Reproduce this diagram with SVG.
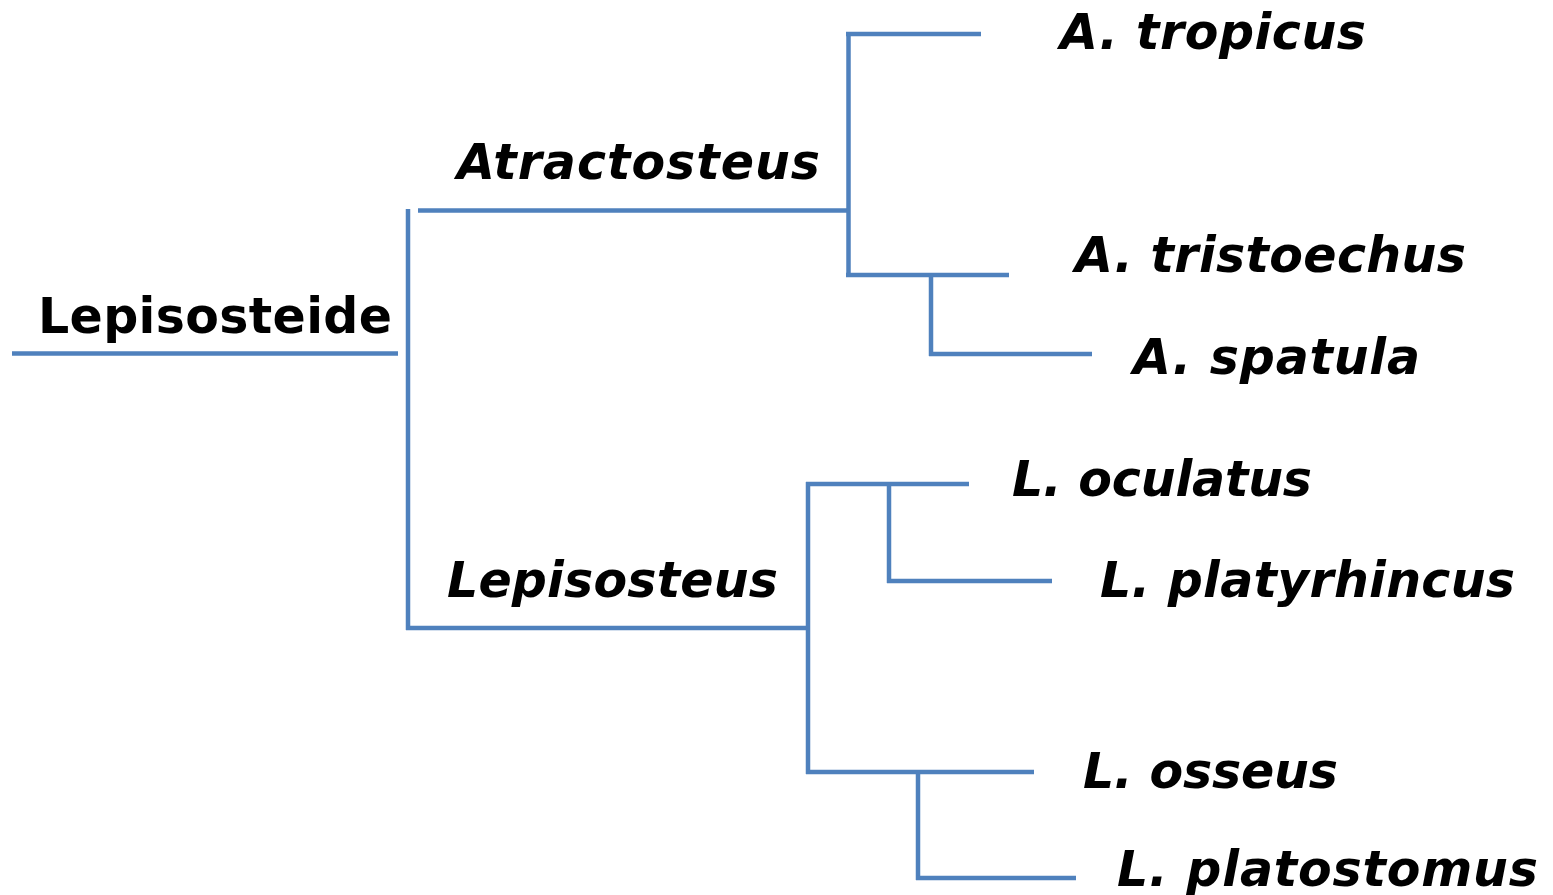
<svg xmlns="http://www.w3.org/2000/svg" width="1553" height="895" viewBox="0 0 1553 895">
<style>
.e{stroke:#4F81BD;stroke-width:4.5;fill:none;stroke-linecap:butt}
text{font-family:"DejaVu Sans","Verdana",sans-serif;font-weight:bold;font-size:49px;fill:#000}
.i{font-style:italic}
</style>
<rect width="1553" height="895" fill="#fff"/>
<g id="connectors">
<path class="e" d="M12 353.5H398"/>
<path class="e" d="M408 209V630"/>
<path class="e" d="M418 210.5H850"/>
<path class="e" d="M848.5 32V277"/>
<path class="e" d="M846 34H981"/>
<path class="e" d="M846 275H1009"/>
<path class="e" d="M931 273V356"/>
<path class="e" d="M929 354H1092"/>
<path class="e" d="M406 628H810"/>
<path class="e" d="M808 482V774"/>
<path class="e" d="M806 484H969"/>
<path class="e" d="M889 482V583"/>
<path class="e" d="M887 581H1052"/>
<path class="e" d="M806 772H1034"/>
<path class="e" d="M918 770V880"/>
<path class="e" d="M916 878H1076"/>
</g>
<g id="root"><text x="38" y="333" textLength="354" lengthAdjust="spacing">Lepisosteide</text></g>
<g id="atractosteus"><text class="i" x="457" y="179" textLength="363" lengthAdjust="spacing">Atractosteus</text></g>
<g id="a-tropicus"><text class="i" x="1060" y="49" textLength="306" lengthAdjust="spacing">A. tropicus</text></g>
<g id="a-tristoechus"><text class="i" x="1075" y="272" textLength="391" lengthAdjust="spacing">A. tristoechus</text></g>
<g id="a-spatula"><text class="i" x="1133" y="374" textLength="287" lengthAdjust="spacing">A. spatula</text></g>
<g id="lepisosteus"><text class="i" x="447" y="597" textLength="331" lengthAdjust="spacing">Lepisosteus</text></g>
<g id="l-oculatus"><text class="i" x="1012" y="496" textLength="300" lengthAdjust="spacing">L. oculatus</text></g>
<g id="l-platyrhincus"><text class="i" x="1100" y="597" textLength="415" lengthAdjust="spacing">L. platyrhincus</text></g>
<g id="l-osseus"><text class="i" x="1083" y="788" textLength="255" lengthAdjust="spacing">L. osseus</text></g>
<g id="l-platostomus"><text class="i" x="1117" y="886" textLength="421" lengthAdjust="spacing">L. platostomus</text></g>
</svg>
